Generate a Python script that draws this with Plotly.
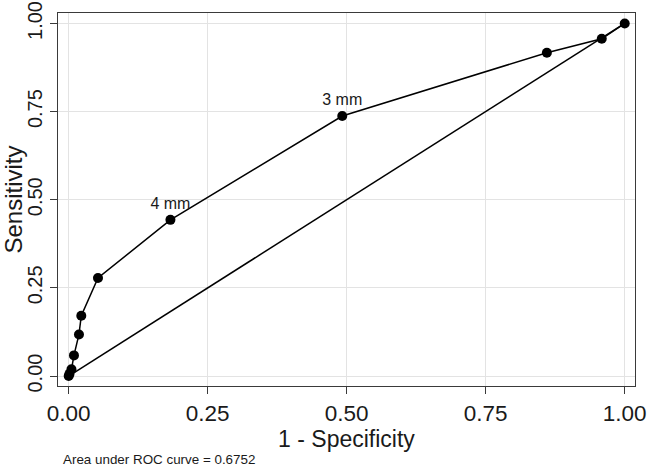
import plotly.graph_objects as go

# Data
fpr = [0.0, 0.0015, 0.005, 0.0095, 0.0185, 0.0227, 0.0527, 0.183, 0.492, 0.860, 0.9587, 1.0]
tpr = [0.0, 0.006, 0.019, 0.0585, 0.118, 0.171, 0.278, 0.443, 0.7375, 0.917, 0.9565, 1.0]
point_labels = ["", "", "", "", "", "", "", "4 mm", "3 mm", "", "", ""]
ref_x = [0.0, 1.0]
ref_y = [0.0, 1.0]
tick_vals = [0.0, 0.25, 0.5, 0.75, 1.0]
tick_text = ["0.00", "0.25", "0.50", "0.75", "1.00"]
auc_note = "Area under ROC curve = 0.6752"

FONT = "Arial, Liberation Sans, sans-serif"
TXT = "#1a1a1a"

fig = go.Figure()
fig.add_trace(go.Scatter(
    x=ref_x, y=ref_y, mode="lines",
    line=dict(color="black", width=1.5), showlegend=False, hoverinfo="skip"))
fig.add_trace(go.Scatter(
    x=fpr, y=tpr, mode="lines+markers+text",
    text=point_labels, textposition="top center",
    textfont=dict(family=FONT, size=16, color=TXT),
    line=dict(color="black", width=1.5),
    marker=dict(color="black", size=10),
    showlegend=False))

axis_common = dict(
    tickvals=tick_vals, ticktext=tick_text,
    showgrid=True, gridcolor="#e3e3e3", gridwidth=1,
    zeroline=False, automargin=False, ticklabeloverflow="allow",
    showline=True, linecolor="#3a3a3a", linewidth=1.2, mirror=True,
    ticks="outside", ticklen=7, tickcolor="#3a3a3a", tickwidth=1,
)

fig.update_layout(
    width=649, height=466,
    margin=dict(l=58, r=14, t=13, b=80),
    paper_bgcolor="white", plot_bgcolor="white",
    font=dict(family=FONT, color=TXT),
    xaxis=dict(range=[-0.0192, 1.0185],
               tickfont=dict(family=FONT, size=22.5, color=TXT),
               title=dict(text="1 - Specificity", font=dict(family=FONT, size=23, color=TXT), standoff=0),
               **axis_common),
    yaxis=dict(range=[-0.0283, 1.0297], tickangle=-90,
               tickfont=dict(family=FONT, size=20, color=TXT),
               title=dict(text="Sensitivity", font=dict(family=FONT, size=24, color=TXT), standoff=4),
               **axis_common),
    annotations=[dict(
        text=auc_note, xref="paper", yref="paper",
        x=(60.7 - 58) / 577, y=(386 - 460) / 373,
        xanchor="left", yanchor="middle", showarrow=False,
        font=dict(family=FONT, size=13.4, color=TXT))],
)

fig.write_html("out.html", config={"displayModeBar": False},
               post_script="document.body.style.margin='0';document.body.style.overflow='hidden';")
